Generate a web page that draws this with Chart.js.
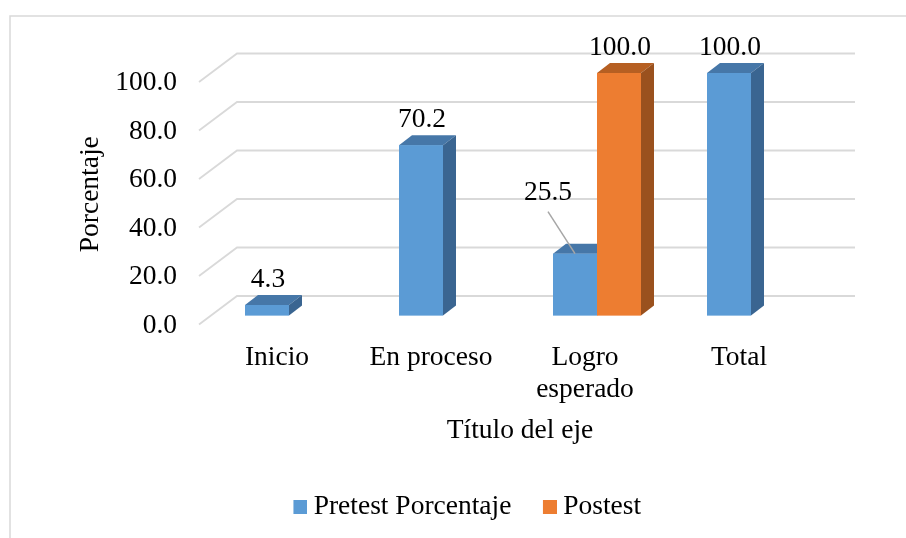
<!DOCTYPE html>
<html>
<head>
<meta charset="utf-8">
<script src="https://cdn.jsdelivr.net/npm/chart.js@4.4.1/dist/chart.umd.min.js"></script>
<style>
html,body{margin:0;padding:0;background:#fff;}
canvas{display:block;}
</style>
</head>
<body>
<canvas id="c" width="906" height="538"></canvas>
<script>
// ---- data ----
const categories = ['Inicio', 'En proceso', ['Logro', 'esperado'], 'Total'];
const pretestValues = [4.3, 70.2, 25.5, 100.0];
const postestValues = [null, null, 100.0, null];
const seriesNames = ['Pretest Porcentaje', 'Postest'];
const yTickMin = 0, yTickMax = 100, yTickStep = 20;
const xAxisTitle = 'Título del eje';
const yAxisTitle = 'Porcentaje';

// ---- style ----
const FONT = 'Liberation Serif, "Times New Roman", serif';
const FS = 27.5;
const frontColors = ['#5b9bd5', '#ed7d31'];
const topColors = ['#4677a8', '#b65f22'];
const sideColors = ['#3a6591', '#9a511e'];
const DEPTH_X = 13, DEPTH_Y = -10;
const callouts = { '0-2': { dx: -27, dy: -61 } };

function legendIcon(color) {
  const cv = document.createElement('canvas');
  cv.width = 28; cv.height = 14;
  const g = cv.getContext('2d');
  g.fillStyle = color;
  g.fillRect(14, 0, 14, 14);
  return cv;
}
const legendIcons = frontColors.map(legendIcon);

const threeD = {
  id: 'threeD',
  beforeDraw(chart) {
    const { ctx, chartArea: a, scales: { y } } = chart;
    ctx.save();
    ctx.strokeStyle = '#d9d9d9';
    ctx.lineWidth = 1.5;
    ctx.strokeRect(10, 16, 2000, 2000);
    ctx.lineWidth = 1.8;
    y.ticks.forEach(t => {
      const py = y.getPixelForValue(t.value);
      ctx.beginPath();
      ctx.moveTo(a.left - 13, py + 9);
      ctx.lineTo(a.left + 25, py - 19.5);
      ctx.lineTo(a.right + 27, py - 19.5);
      ctx.stroke();
    });
    ctx.restore();
  },
  afterDatasetsDraw(chart) {
    const ctx = chart.ctx;
    ctx.save();
    chart.data.datasets.forEach((ds, di) => {
      const meta = chart.getDatasetMeta(di);
      meta.data.forEach((el, i) => {
        const v = ds.data[i];
        if (v === null || v === undefined) return;
        const { x, y, base, width } = el.getProps(['x', 'y', 'base', 'width'], true);
        const x0 = x - width / 2, x1 = x + width / 2;
        ctx.fillStyle = topColors[di];
        ctx.beginPath();
        ctx.moveTo(x0, y);
        ctx.lineTo(x0 + DEPTH_X, y + DEPTH_Y);
        ctx.lineTo(x1 + DEPTH_X, y + DEPTH_Y);
        ctx.lineTo(x1, y);
        ctx.closePath();
        ctx.fill();
        ctx.fillStyle = sideColors[di];
        ctx.beginPath();
        ctx.moveTo(x1, y);
        ctx.lineTo(x1 + DEPTH_X, y + DEPTH_Y);
        ctx.lineTo(x1 + DEPTH_X, base + DEPTH_Y);
        ctx.lineTo(x1, base);
        ctx.closePath();
        ctx.fill();
        el.draw(ctx);
      });
    });
    ctx.font = FS + 'px ' + FONT;
    ctx.fillStyle = '#000';
    ctx.textAlign = 'center';
    ctx.textBaseline = 'middle';
    chart.data.datasets.forEach((ds, di) => {
      const meta = chart.getDatasetMeta(di);
      meta.data.forEach((el, i) => {
        const v = ds.data[i];
        if (v === null || v === undefined) return;
        const txt = v.toFixed(1);
        const c = callouts[di + '-' + i];
        if (c) {
          const lx = el.x + c.dx, ly = el.y + c.dy;
          ctx.strokeStyle = '#a6a6a6';
          ctx.lineWidth = 1.5;
          ctx.beginPath();
          ctx.moveTo(lx, ly + 19);
          ctx.lineTo(el.x, el.y);
          ctx.stroke();
          ctx.fillText(txt, lx, ly);
        } else {
          ctx.fillText(txt, el.x + 1, el.y - 25);
        }
      });
    });
    ctx.restore();
  }
};

new Chart(document.getElementById('c'), {
  type: 'bar',
  data: {
    labels: categories,
    datasets: [
      { label: seriesNames[0], data: pretestValues, backgroundColor: frontColors[0], borderWidth: 0 },
      { label: seriesNames[1], data: postestValues, backgroundColor: frontColors[1], borderWidth: 0 }
    ]
  },
  options: {
    responsive: false,
    animation: false,
    devicePixelRatio: 1,
    categoryPercentage: 88 / 154,
    barPercentage: 1,
    layout: { padding: { left: 100, right: 78, top: 73, bottom: 7.5 } },
    plugins: {
      tooltip: { enabled: false },
      legend: {
        position: 'bottom',
        labels: {
          font: { family: FONT, size: FS },
          color: '#000',
          usePointStyle: true,
          pointStyleWidth: 13,
          padding: 25,
          generateLabels(chart) {
            const items = Chart.defaults.plugins.legend.labels.generateLabels(chart);
            items.forEach(it => { it.pointStyle = legendIcons[it.datasetIndex]; });
            return items;
          }
        }
      }
    },
    scales: {
      x: {
        grid: { display: false, drawTicks: false },
        border: { display: false },
        ticks: {
          font: { family: FONT, size: FS, lineHeight: 1.15 },
          color: '#000',
          padding: 26.5,
          labelOffset: -12,
          maxRotation: 0,
          autoSkip: false
        },
        title: {
          display: true,
          text: xAxisTitle,
          font: { family: FONT, size: FS, lineHeight: 1.15 },
          color: '#000',
          padding: { top: 4, bottom: 21 }
        },
        afterFit(s) { s.height = 152.5; }
      },
      y: {
        min: yTickMin,
        max: yTickMax,
        grid: { display: false, drawTicks: false },
        border: { display: false },
        ticks: {
          stepSize: yTickStep,
          font: { family: FONT, size: FS },
          color: '#000',
          padding: 35,
          labelOffset: 10,
          callback: v => Number(v).toFixed(1)
        },
        title: {
          display: true,
          text: yAxisTitle,
          font: { family: FONT, size: FS },
          color: '#000',
          padding: { top: -26, bottom: 0 }
        },
        afterFit(s) { s.width = 112; }
      }
    }
  },
  plugins: [threeD]
});
</script>
</body>
</html>
